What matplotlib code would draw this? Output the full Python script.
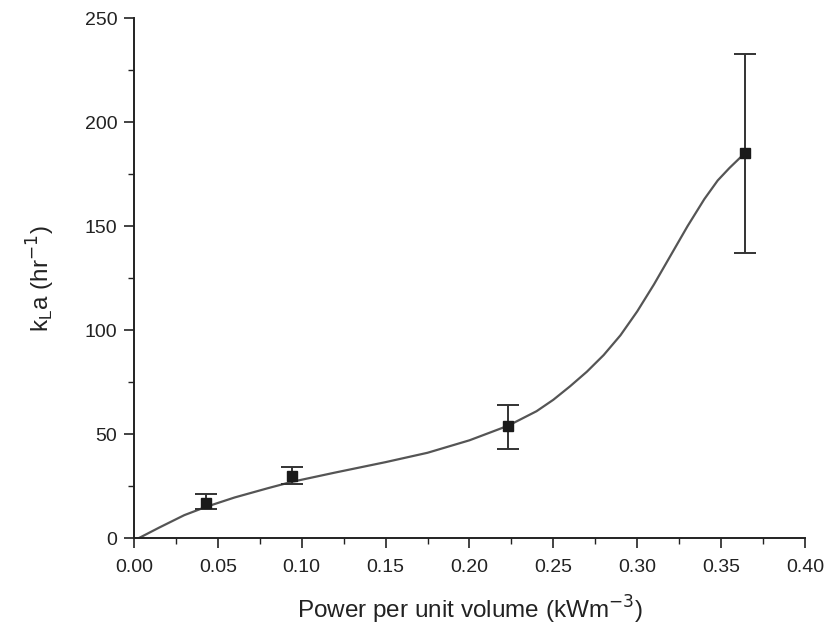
import matplotlib
matplotlib.use("Agg")
import matplotlib.pyplot as plt
from matplotlib.ticker import MultipleLocator, FormatStrFormatter

plt.rcParams['font.family'] = ['Liberation Sans', 'DejaVu Sans']

# measured points
px = [0.043, 0.094, 0.223, 0.364]
py = [17, 30, 54, 185]
err_low = [3, 4, 11, 48]
err_high = [4, 4, 10, 48]

# fitted curve
cx = [0.003, 0.015, 0.03, 0.043, 0.06, 0.08, 0.094, 0.12, 0.15, 0.175, 0.2, 0.223, 0.24,
      0.25, 0.26, 0.27, 0.28, 0.29, 0.30, 0.31, 0.32, 0.33, 0.34, 0.348, 0.355, 0.364]
cy = [0, 5, 11, 15, 19.5, 24, 27, 31.5, 36.5, 41, 47, 54, 61,
      66.5, 73, 80, 88, 97.5, 109, 122, 136, 150, 163, 172, 178, 185]

fig = plt.figure(figsize=(8.32, 6.30), dpi=100)
ax = fig.add_axes([0.161, 0.146, 0.8065, 0.825])

ax.plot(cx, cy, color='#555555', lw=1.6)
ax.errorbar(px, py, yerr=[err_low, err_high], fmt='s', color='#1a1a1a', ms=7,
            ecolor='#333333', elinewidth=1.4, capsize=8, capthick=1.4)

ax.set_xlim(0, 0.40)
ax.set_ylim(0, 250)
ax.xaxis.set_major_locator(MultipleLocator(0.05))
ax.xaxis.set_minor_locator(MultipleLocator(0.025))
ax.yaxis.set_major_locator(MultipleLocator(50))
ax.yaxis.set_minor_locator(MultipleLocator(25))
ax.xaxis.set_major_formatter(FormatStrFormatter('%.2f'))

for s in ['top', 'right']:
    ax.spines[s].set_visible(False)
for s in ['left', 'bottom']:
    ax.spines[s].set_linewidth(1.4)
    ax.spines[s].set_color('#222222')

ax.tick_params(which='major', direction='out', length=7, width=1.2, labelsize=14,
               colors='#222222', pad=5)
ax.tick_params(axis='x', which='major', pad=8)
ax.tick_params(which='minor', direction='out', length=4, width=1.0, colors='#222222')

ax.set_xlabel('Power per unit volume (kWm$^{-3}$)', fontsize=17.5, labelpad=13, color='#222222')
ax.set_ylabel('k$_{\\mathregular{L}}$a (hr$^{-1}$)', fontsize=17.5, labelpad=20, color='#222222')

fig.savefig('out.png', dpi=100, facecolor='white')
